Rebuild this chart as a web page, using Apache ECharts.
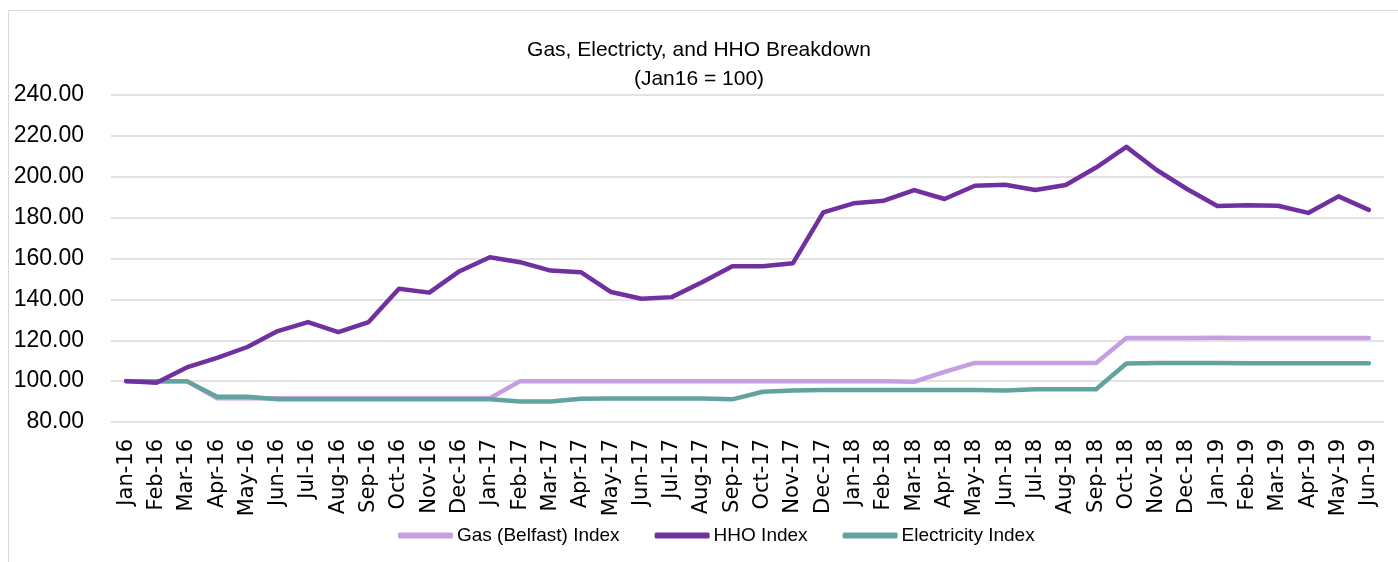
<!DOCTYPE html>
<html>
<head>
<meta charset="utf-8">
<script src="https://cdn.jsdelivr.net/npm/echarts@6/dist/echarts.min.js"></script>
<style>
  html, body {margin: 0; padding: 0; background: #fff;}
  #chart {width: 1398px; height: 562px;}
</style>
</head>
<body>
<div id="chart"></div>
<script>
// months Jan-16 .. Jun-19
const months = ['Jan-16', 'Feb-16', 'Mar-16', 'Apr-16', 'May-16', 'Jun-16', 'Jul-16', 'Aug-16', 'Sep-16', 'Oct-16', 'Nov-16', 'Dec-16',
  'Jan-17', 'Feb-17', 'Mar-17', 'Apr-17', 'May-17', 'Jun-17', 'Jul-17', 'Aug-17', 'Sep-17', 'Oct-17', 'Nov-17', 'Dec-17',
  'Jan-18', 'Feb-18', 'Mar-18', 'Apr-18', 'May-18', 'Jun-18', 'Jul-18', 'Aug-18', 'Sep-18', 'Oct-18', 'Nov-18', 'Dec-18',
  'Jan-19', 'Feb-19', 'Mar-19', 'Apr-19', 'May-19', 'Jun-19'];

const gasIndex = [100, 100, 100, 91.6, 91.6, 91.6, 91.6, 91.6, 91.6, 91.6, 91.6, 91.6,
  91.6, 100, 100, 100, 100, 100, 100, 100, 100, 100, 100, 100,
  100, 100, 99.7, 104.5, 108.9, 108.9, 108.9, 108.9, 108.9, 121.1, 121.1, 121.1,
  121.2, 121.1, 121.1, 121.1, 121.1, 121.1];

const hhoIndex = [100, 99.2, 106.7, 111.4, 116.7, 124.5, 128.9, 124.0, 128.9, 145.2, 143.3, 153.8,
  160.6, 158.2, 154.1, 153.3, 143.6, 140.3, 141.1, 148.4, 156.2, 156.2, 157.7, 182.6,
  187.0, 188.3, 193.5, 189.1, 195.6, 196.1, 193.5, 196.0, 204.5, 214.6, 203.3, 194.0,
  185.7, 186.0, 185.8, 182.3, 190.4, 183.8];

const elecIndex = [100, 100, 100, 92.3, 92.3, 91.1, 91.1, 91.1, 91.1, 91.1, 91.1, 91.1,
  91.1, 90.0, 90.0, 91.4, 91.5, 91.5, 91.5, 91.5, 91.1, 94.8, 95.4, 95.6,
  95.6, 95.6, 95.6, 95.6, 95.6, 95.4, 96.0, 96.0, 96.0, 108.6, 108.9, 108.9,
  108.9, 108.8, 108.8, 108.8, 108.8, 108.8];

const colorArray = ['#C59FE1', '#7030A0', '#62A39F'];
const seriesNames = ['Gas (Belfast) Index', 'HHO Index', 'Electricity Index'];
const seriesData = [gasIndex, hhoIndex, elecIndex];

var chartDom = document.getElementById('chart');
var myChart = echarts.init(chartDom);

const seriesLine = [];
seriesData.map((item, index) => {
  seriesLine.push({
    name: seriesNames[index],
    type: 'line',
    showSymbol: false,
    symbol: 'none',
    lineStyle: {width: 4.5, color: colorArray[index], cap: 'round', join: 'round'},
    itemStyle: {color: colorArray[index]},
    z: index == 1 ? 3 : (index == 2 ? 2 : 1),
    data: item
  });
});

const option = {
  animation: false,
  backgroundColor: '#fff',
  graphic: [{
    type: 'rect',
    shape: {x: 8.5, y: 10.5, width: 1400, height: 560},
    style: {fill: 'none', stroke: '#d9d9d9', lineWidth: 1},
    silent: true
  }],
  title: {
    text: 'Gas, Electricty, and HHO Breakdown',
    subtext: '(Jan16 = 100)',
    left: 'center',
    top: 35,
    itemGap: 8,
    textStyle: {fontFamily: 'Liberation Sans', fontSize: 21, fontWeight: 'normal', color: '#000'},
    subtextStyle: {fontFamily: 'Liberation Sans', fontSize: 21, color: '#000'}
  },
  legend: {
    data: seriesNames,
    left: 393,
    top: 521,
    icon: 'roundRect',
    itemWidth: 55,
    itemHeight: 6,
    itemGap: 35,
    textStyle: {fontFamily: 'Liberation Sans', fontSize: 19, color: '#000', padding: [0, 0, 0, -1]}
  },
  grid: {left: 111, right: 14, top: 95, bottom: 140},
  xAxis: {
    type: 'category',
    data: months,
    boundaryGap: true,
    axisLine: {show: false},
    axisTick: {show: false},
    axisLabel: {
      interval: 0,
      rotate: 90,
      margin: 17,
      fontFamily: 'DejaVu Sans',
      fontSize: 21,
      color: '#000'
    }
  },
  yAxis: {
    type: 'value',
    min: 80,
    max: 240,
    interval: 20,
    axisLine: {show: false},
    axisTick: {show: false},
    splitLine: {lineStyle: {color: '#d9d9d9', width: 1.5}},
    axisLabel: {
      margin: 27,
      fontFamily: 'Liberation Sans',
      fontSize: 23,
      color: '#000',
      formatter: (v) => v.toFixed(2)
    }
  },
  series: seriesLine
};
option && myChart.setOption(option);
</script>
</body>
</html>
